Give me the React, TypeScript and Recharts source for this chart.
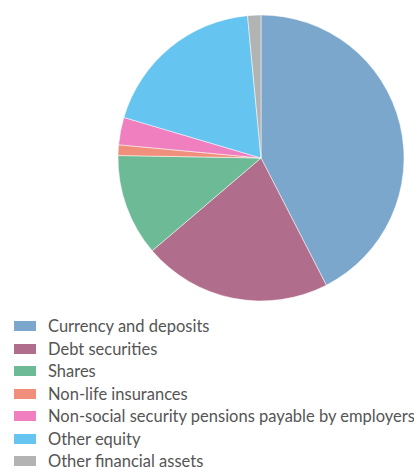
import { Cell, Pie, PieChart } from "recharts";

const categories = [
  "Currency and deposits",
  "Debt securities",
  "Shares",
  "Non-life insurances",
  "Non-social security pensions payable by employers",
  "Other equity",
  "Other financial assets",
];
const shares = [42.4, 21.3, 11.5, 1.2, 3.1, 18.9, 1.5];
const colors = ["#7BA7CC", "#B16E8C", "#6CBA96", "#F0907C", "#F07FC0", "#66C4F0", "#B3B3B3"];

const data = categories.map((name, i) => ({ name, value: shares[i] }));

export default function App() {
  return (
    <div style={{ position: "absolute", left: 0, top: 0, width: 414, height: 468, background: "#fff" }}>
      <PieChart width={414} height={310} margin={{ top: 0, right: 0, bottom: 0, left: 0 }}>
        <Pie
          data={data}
          dataKey="value"
          nameKey="name"
          cx={261}
          cy={158}
          outerRadius={143}
          startAngle={90}
          endAngle={-270}
          stroke="#fff"
          strokeWidth={0.5}
          isAnimationActive={false}
        >
          {data.map((d, i) => (
            <Cell key={d.name} fill={colors[i]} />
          ))}
        </Pie>
      </PieChart>
      <div
        style={{
          position: "absolute",
          left: 14,
          top: 315,
          fontFamily: "Lato, sans-serif",
          fontSize: 16.5,
          color: "#555",
        }}
      >
        {categories.map((c, i) => (
          <div key={c} style={{ display: "flex", alignItems: "center", height: 22.5 }}>
            <span style={{ display: "inline-block", width: 22, height: 10, background: colors[i], marginRight: 12 }} />
            <span style={{ whiteSpace: "nowrap" }}>{c}</span>
          </div>
        ))}
      </div>
    </div>
  );
}
